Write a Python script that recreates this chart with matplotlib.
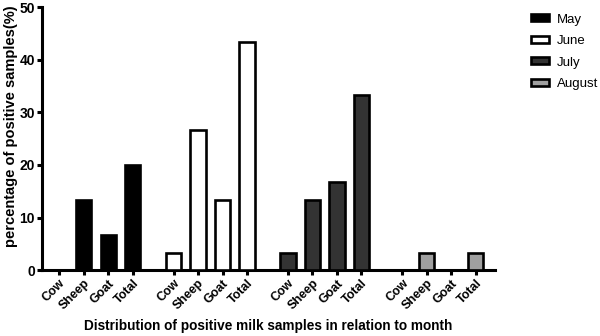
import numpy as np
import matplotlib.pyplot as plt

plt.rcParams['font.family'] = ['Liberation Sans', 'DejaVu Sans']

months = ["May", "June", "July", "August"]
animals = ["Cow", "Sheep", "Goat", "Total"]
may = [0, 13.3, 6.7, 20.0]
june = [3.3, 26.7, 13.3, 43.3]
july = [3.3, 13.3, 16.7, 33.3]
august = [0, 3.3, 0, 3.3]
colors = ["#000000", "#ffffff", "#333333", "#a0a0a0"]

fig = plt.figure(figsize=(6, 3.36), dpi=100)
ax = fig.add_axes([0.07, 0.196, 0.755, 0.783])

stride = 4.67
ticks = []
labels = []
for i, (name, vals) in enumerate(zip(months, [may, june, july, august])):
    x = i * stride + np.arange(4)
    ax.bar(x, vals, width=0.62, color=colors[i], edgecolor="black",
           linewidth=1.9, label=name, zorder=3)
    ticks.extend(x)
    labels.extend(animals)

ax.set_xticks(ticks)
ax.set_xticklabels(labels, rotation=45, ha="right", rotation_mode="anchor",
                   fontsize=9, fontweight="bold")
ax.set_xlim(-0.7, 3 * stride + 3 + 0.78)
ax.set_ylim(0, 50)
ax.set_yticks([0, 10, 20, 30, 40, 50])
for t in ax.get_yticklabels():
    t.set_fontweight("bold")
    t.set_fontsize(10)

for s in ["top", "right"]:
    ax.spines[s].set_visible(False)
for s in ["left", "bottom"]:
    ax.spines[s].set_linewidth(2.2)
ax.tick_params(axis="both", width=2.2, length=3.6, pad=1.5)

ax.set_ylabel("percentage of positive samples(%)", fontsize=10.5, fontweight="bold")
ax.yaxis.set_label_coords(-0.052, 0.549)
ax.set_xlabel("Distribution of positive milk samples in relation to month",
              fontsize=9.8, fontweight="bold", labelpad=5)

leg = ax.legend(loc="upper left", bbox_to_anchor=(1.073, 0.985), frameon=False,
                fontsize=9.5, handlelength=1.36, handleheight=0.45,
                handletextpad=0.62, labelspacing=0.72, borderaxespad=0,
                borderpad=0.2)

fig.savefig("out.png", dpi=100)
